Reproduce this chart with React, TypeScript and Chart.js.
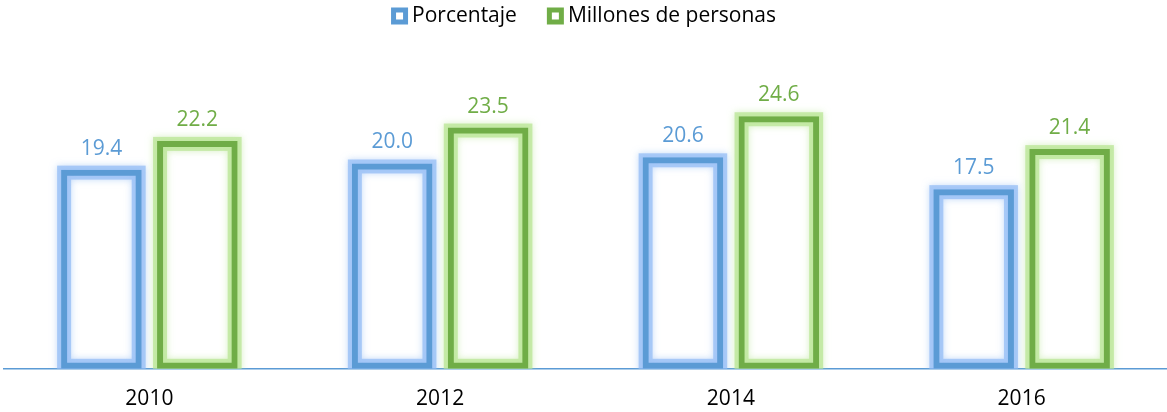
import React, { useEffect, useRef } from "react";
import { Chart, registerables } from "chart.js";

Chart.register(...registerables);

const years = ["2010", "2012", "2014", "2016"];
const porcentaje = [19.4, 20.0, 20.6, 17.5];
const millones = [22.2, 23.5, 24.6, 21.4];
const seriesNames = ["Porcentaje", "Millones de personas"];

const BLUE = "#5B9BD5";
const GREEN = "#70AD47";
const BLUE_GLOW = "rgba(150,190,245,0.75)";
const GREEN_GLOW = "rgba(185,230,150,0.75)";
const FONT = "'Open Sans'";

const glowPlugin = {
  id: "glow",
  beforeDatasetsDraw(chart: any) {
    const ctx = chart.ctx;
    const area = chart.chartArea;
    ctx.save();
    ctx.beginPath();
    ctx.rect(area.left, 0, area.right - area.left, area.bottom);
    ctx.clip();
    chart.data.datasets.forEach((ds: any, i: number) => {
      const meta = chart.getDatasetMeta(i);
      const col = ds.glowColor;
      meta.data.forEach((el: any) => {
        const p = el.getProps(["x", "y", "base", "width"], true);
        const left = p.x - p.width / 2;
        const bw = 6;
        ctx.strokeStyle = col;
        ctx.lineWidth = bw + 8;
        ctx.shadowColor = col;
        ctx.shadowBlur = 7;
        ctx.strokeRect(left + bw / 2, p.y + bw / 2, p.width - bw, p.base - p.y - bw);
      });
    });
    ctx.restore();
  },
};

const labelPlugin = {
  id: "valueLabels",
  afterDatasetsDraw(chart: any) {
    const ctx = chart.ctx;
    ctx.save();
    ctx.font = `21px ${FONT}`;
    ctx.textAlign = "center";
    ctx.textBaseline = "alphabetic";
    chart.data.datasets.forEach((ds: any, i: number) => {
      const meta = chart.getDatasetMeta(i);
      ctx.fillStyle = ds.borderColor;
      meta.data.forEach((el: any, j: number) => {
        const v = ds.data[j];
        ctx.fillText(v.toFixed(1), el.x, el.y - 15);
      });
    });
    ctx.restore();
  },
};

const legendPlugin = {
  id: "customLegend",
  afterDraw(chart: any) {
    const ctx = chart.ctx;
    ctx.save();
    ctx.font = `21px ${FONT}`;
    ctx.textBaseline = "middle";
    ctx.textAlign = "left";
    const box = 17;
    const gapText = 4;
    const gapItem = 30;
    const items = chart.data.datasets.map((ds: any) => ({
      text: ds.label,
      color: ds.borderColor,
      w: ctx.measureText(ds.label).width,
    }));
    const total =
      items.reduce((s: number, it: any) => s + box + gapText + it.w, 0) + gapItem * (items.length - 1);
    let x = chart.width / 2 - total / 2;
    const cy = 16;
    items.forEach((it: any) => {
      ctx.fillStyle = it.color;
      ctx.fillRect(x, cy - box / 2, box, box);
      ctx.fillStyle = "#fff";
      ctx.fillRect(x + 5, cy - box / 2 + 5, box - 10, box - 10);
      ctx.fillStyle = "#000";
      ctx.fillText(it.text, x + box + gapText, cy);
      x += box + gapText + it.w + gapItem;
    });
    ctx.restore();
  },
};

export default function App() {
  const ref = useRef<HTMLCanvasElement>(null);
  useEffect(() => {
    if (!ref.current) return;
    const chart = new Chart(ref.current, {
      type: "bar",
      data: {
        labels: years,
        datasets: [
          {
            label: seriesNames[0],
            data: porcentaje,
            backgroundColor: "rgba(255,255,255,0)",
            borderColor: BLUE,
            borderWidth: 6,
            borderSkipped: false,
            glowColor: BLUE_GLOW,
          } as any,
          {
            label: seriesNames[1],
            data: millones,
            backgroundColor: "rgba(255,255,255,0)",
            borderColor: GREEN,
            borderWidth: 6,
            borderSkipped: false,
            glowColor: GREEN_GLOW,
          } as any,
        ],
      },
      options: {
        animation: false,
        responsive: true,
        maintainAspectRatio: false,
        datasets: { bar: { categoryPercentage: 0.66, barPercentage: 0.84 } },
        layout: { padding: { left: 4, right: 0, top: 30, bottom: -18 } },
        plugins: {
          legend: { display: false },
          tooltip: { enabled: false },
        },
        scales: {
          x: {
            grid: { display: false, drawTicks: false },
            border: { display: true, color: BLUE, width: 1.5 },
            ticks: { color: "#000", font: { family: FONT, size: 21 }, padding: 18 },
          },
          y: {
            display: false,
            min: 0,
            max: 33,
          },
        },
      },
      plugins: [glowPlugin, labelPlugin, legendPlugin],
    });
    return () => chart.destroy();
  }, []);
  return (
    <div style={{ position: "fixed", left: 0, top: 0, width: 1167, height: 412, background: "#fff" }}>
      <canvas ref={ref} />
    </div>
  );
}
